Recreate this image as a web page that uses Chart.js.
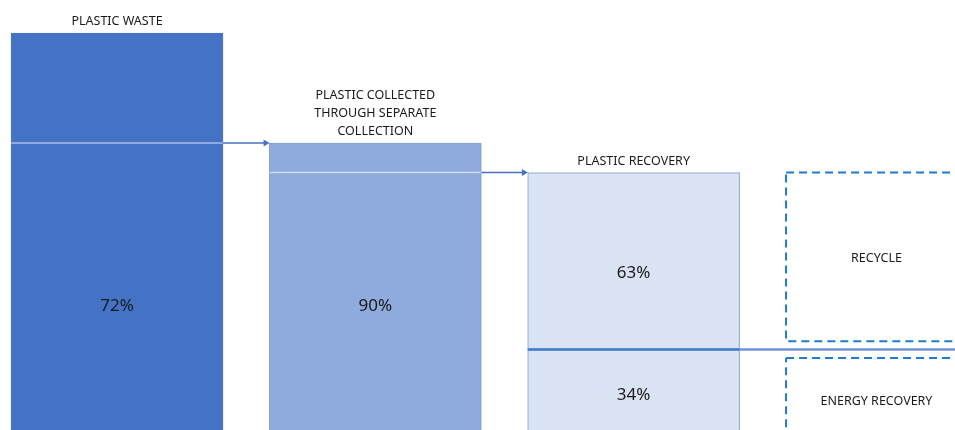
<!DOCTYPE html>
<html>
<head>
<meta charset="utf-8">
<script src="https://cdn.jsdelivr.net/npm/chart.js@4"></script>
<style>
  html, body { margin: 0; padding: 0; background: #fff; }
  #wrap { width: 955px; height: 430px; }
</style>
</head>
<body>
<div id="wrap"><canvas id="myChart"></canvas></div>
<script>
// stages of the flow (share of plastic waste = 100)
const stages = [['PLASTIC WASTE'], ['PLASTIC COLLECTED', 'THROUGH SEPARATE', 'COLLECTION'], ['PLASTIC RECOVERY']];
const stageTop = [100, 72, 64.5];
const stageSplit = [72, 64.5, 19.5];
const stageBase = -10;
const shareLabels = ['72%', '90%', '63%', '34%'];
const outcomes = ['RECYCLE', 'ENERGY RECOVERY'];
const outcomeTop = [64.5, 17.3];
const outcomeBottom = [21.6, -10];

// layout
const barHalf = 0.41;
const boxLeft = 2.59, boxRight = 3.29;
const fills = ['#4472c4', '#8faadc', '#dae3f3'];
const edges = ['#4a78c8', '#86a2d8', '#93aedd'];
const labelAt = [[0, 30.4], [1, 30.6], [2, 39], [2, 7.8]];
const outcomeLabelY = [42.7, 6.3];

const ctx = document.getElementById('myChart');

let datasets = [];

// bar segments (upper + lower), drawn as floating bars
datasets.push({
    type: 'bar',
    data: stages.map((s, i) => ({ x: i, y: [stageSplit[i], stageTop[i]] })),
    backgroundColor: fills,
    borderColor: edges,
    borderWidth: 1.2,
    borderSkipped: false,
    grouped: false,
    barThickness: 212,
    order: 3
});
datasets.push({
    type: 'bar',
    data: stages.map((s, i) => ({ x: i, y: [stageBase, stageSplit[i]] })),
    backgroundColor: fills,
    borderColor: edges,
    borderWidth: 1.2,
    borderSkipped: false,
    grouped: false,
    barThickness: 212,
    order: 3
});

// divider lines that turn into arrows to the next stage
const dividerColors = [['#a9bde6', '#4472c4'], ['#d3ddf1', '#4472c4'], ['#3b7bc8', '#7293d3']];
for (let i = 0; i < 3; i++) {
    const endX = i < 2 ? i + 1 - barHalf - 0.015 : 3.3;
    const cols = dividerColors[i];
    datasets.push({
        type: 'line',
        data: [
            { x: i - barHalf, y: stageSplit[i] },
            { x: i + barHalf, y: stageSplit[i] },
            { x: endX, y: stageSplit[i] }
        ],
        borderWidth: i == 2 ? 2.5 : 1.5,
        borderColor: cols[1],
        segment: {
            borderColor: c => c.p0DataIndex == 0 ? cols[0] : cols[1]
        },
        pointRadius: i < 2 ? [0, 0, 4] : 0,
        pointStyle: 'triangle',
        rotation: 90,
        pointBackgroundColor: '#4472c4',
        pointBorderColor: '#4472c4',
        pointBorderWidth: 0,
        tension: 0,
        fill: false,
        order: 1
    });
}

// dashed outcome boxes
for (let i = 0; i < outcomes.length; i++) {
    datasets.push({
        type: 'line',
        data: [
            { x: boxLeft, y: outcomeTop[i] },
            { x: boxRight, y: outcomeTop[i] },
            { x: boxRight, y: outcomeBottom[i] },
            { x: boxLeft, y: outcomeBottom[i] },
            { x: boxLeft, y: outcomeTop[i] }
        ],
        borderColor: '#1f7bd1',
        borderWidth: 2,
        borderDash: [8, 5],
        pointRadius: 0,
        tension: 0,
        fill: false,
        order: 2
    });
}

const textPlugin = {
    id: 'flowText',
    afterDatasetsDraw(chart) {
        const c = chart.ctx;
        const x = chart.scales.x, y = chart.scales.y;
        c.save();
        c.fillStyle = '#1a1a1a';
        c.textAlign = 'center';
        c.textBaseline = 'middle';
        // stage titles above each bar
        c.font = '12.5px "Noto Sans"';
        stages.forEach((lines, i) => {
            const top = y.getPixelForValue(stageTop[i]);
            lines.forEach((t, j) => {
                c.fillText(t, x.getPixelForValue(i), top - 11.5 - (lines.length - 1 - j) * 18);
            });
        });
        // outcome names in the dashed boxes
        outcomes.forEach((t, i) => {
            c.fillText(t, x.getPixelForValue((boxLeft + boxRight) / 2), y.getPixelForValue(outcomeLabelY[i]));
        });
        // shares
        c.font = '17px "Noto Sans"';
        shareLabels.forEach((t, i) => {
            c.fillText(t, x.getPixelForValue(labelAt[i][0]), y.getPixelForValue(labelAt[i][1]));
        });
        c.restore();
    }
};

new Chart(ctx, {
    data: { datasets: datasets },
    options: {
        responsive: true,
        maintainAspectRatio: false,
        animation: false,
        layout: { padding: 0, autoPadding: false },
        plugins: {
            legend: { display: false },
            tooltip: { enabled: false }
        },
        scales: {
            x: { type: 'linear', display: false, offset: false, min: -0.453, max: 3.244 },
            y: { type: 'linear', display: false, offset: false, min: -1, max: 108.4 }
        }
    },
    plugins: [textPlugin]
});
</script>
</body>
</html>
